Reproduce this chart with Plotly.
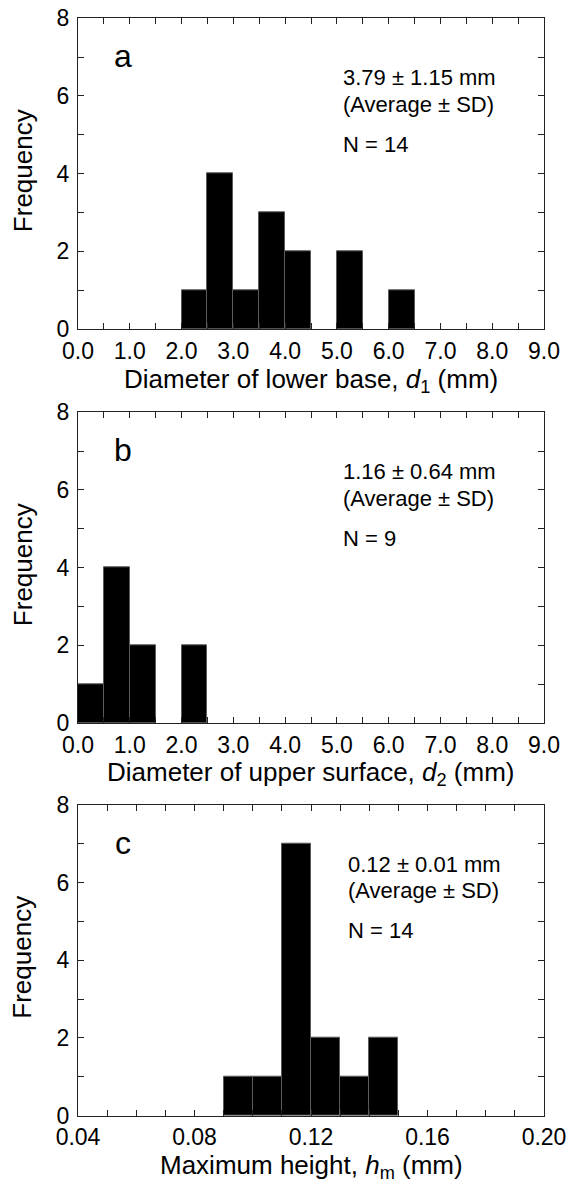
import plotly.graph_objects as go

# ---------------- data ----------------
# panel a: diameter of lower base d1 (mm), bin width 0.5
a_bin_left = [2.0, 2.5, 3.0, 3.5, 4.0, 4.5, 5.0, 5.5, 6.0]
a_counts = [1, 4, 1, 3, 2, 0, 2, 0, 1]
a_bin_width = 0.5
# panel b: diameter of upper surface d2 (mm), bin width 0.5
b_bin_left = [0.0, 0.5, 1.0, 1.5, 2.0]
b_counts = [1, 4, 2, 0, 2]
b_bin_width = 0.5
# panel c: maximum height hm (mm), bin width 0.01
c_bin_left = [0.09, 0.10, 0.11, 0.12, 0.13, 0.14]
c_counts = [1, 1, 7, 2, 1, 2]
c_bin_width = 0.01

ab_major_ticks = [float(v) for v in range(10)]
ab_tick_labels = [f"{v:.1f}" for v in ab_major_ticks]
ab_minor_ticks = [v + 0.5 for v in range(9)]
c_major_ticks = [0.04, 0.08, 0.12, 0.16, 0.20]
c_tick_labels = ["0.04", "0.08", "0.12", "0.16", "0.20"]
c_minor_ticks = [0.05, 0.06, 0.07, 0.09, 0.10, 0.11, 0.13, 0.14, 0.15, 0.17, 0.18, 0.19]
y_major_ticks = [0, 2, 4, 6, 8]
y_tick_labels = ["0", "2", "4", "6", "8"]
y_minor_ticks = [1, 3, 5, 7]

panel_letters = ["a", "b", "c"]
stat_lines = [
    ["3.79 ± 1.15 mm", "(Average ± SD)", "N = 14"],
    ["1.16 ± 0.64 mm", "(Average ± SD)", "N = 9"],
    ["0.12 ± 0.01 mm", "(Average ± SD)", "N = 14"],
]
x_titles = [
    "Diameter of lower base, <i>d</i><sub>1</sub> (mm)",
    "Diameter of upper surface, <i>d</i><sub>2</sub> (mm)",
    "Maximum height, <i>h</i><sub>m</sub> (mm)",
]
y_title = "Frequency"

# ---------------- layout geometry (pixels) ----------------
W, H = 572, 1183
FONT = "Liberation Sans, Arial, sans-serif"
left_px, right_px = 78, 544
panels_px = [(18.3, 329.0), (412.3, 723.0), (804.7, 1115.7)]  # top, bottom


def py(p):
    return (H - p) / H


def px(p):
    return p / W


fig = go.Figure()

series = [
    (a_bin_left, a_counts, a_bin_width),
    (b_bin_left, b_counts, b_bin_width),
    (c_bin_left, c_counts, c_bin_width),
]
xranges = [[0, 9], [0, 9], [0.04, 0.20]]
xticks = [
    (ab_major_ticks, ab_tick_labels, ab_minor_ticks),
    (ab_major_ticks, ab_tick_labels, ab_minor_ticks),
    (c_major_ticks, c_tick_labels, c_minor_ticks),
]

AX = "#222"
annotations = []
for i, ((lefts, counts, bw), (top, bot)) in enumerate(zip(series, panels_px)):
    n = "" if i == 0 else str(i + 1)
    keep = [k for k, c in enumerate(counts) if c > 0]
    fig.add_trace(go.Bar(
        x=[lefts[k] for k in keep], y=[counts[k] for k in keep], width=bw, offset=0,
        marker=dict(color="black", line=dict(color="#5a5a5a", width=1)),
        xaxis="x" + n, yaxis="y" + n, showlegend=False,
    ))
    common = dict(
        showgrid=False, zeroline=False, showline=True, linecolor=AX,
        linewidth=1.3, mirror="ticks", ticks="inside", ticklen=6,
        tickwidth=1, tickcolor=AX, automargin=False,
        tickfont=dict(family=FONT, size=23, color="black"),
    )
    fig.update_layout(**{
        "xaxis" + n: dict(
            domain=[px(left_px), px(right_px)], range=xranges[i],
            anchor="y" + n, tickmode="array", tickvals=xticks[i][0],
            ticktext=xticks[i][1], ticklabelstandoff=1,
            minor=dict(tickmode="array", tickvals=xticks[i][2], ticks="inside",
                       ticklen=6, tickwidth=1, tickcolor=AX, showgrid=False),
            **common),
        "yaxis" + n: dict(
            domain=[py(bot), py(top)], range=[0, 8], anchor="x" + n,
            tickmode="array", tickvals=y_major_ticks, ticktext=y_tick_labels,
            ticklabelstandoff=3,
            minor=dict(tickmode="array", tickvals=y_minor_ticks, ticks="inside",
                       ticklen=6, tickwidth=1, tickcolor=AX, showgrid=False),
            **common),
    })
    # panel letter
    annotations.append(dict(
        text=panel_letters[i], x=px(123), y=py(top + 38), xref="paper", yref="paper",
        xanchor="center", yanchor="middle", showarrow=False,
        font=dict(family=FONT, size=32, color="black")))
    # stats text
    sx = 341.5 if i < 2 else 346
    for line, dy in zip(stat_lines[i], [59.5, 86.0, 125.7]):
        annotations.append(dict(
            text=line, x=px(sx), y=py(top + dy), xref="paper", yref="paper",
            xanchor="left", yanchor="middle", showarrow=False,
            font=dict(family=FONT, size=22, color="black")))
    # x title
    annotations.append(dict(
        text=x_titles[i], x=px((left_px + right_px) / 2), y=py(bot + 51),
        xref="paper", yref="paper", xanchor="center", yanchor="middle",
        showarrow=False, font=dict(family=FONT, size=26, color="black")))
    # y title
    annotations.append(dict(
        text=y_title, x=px(22.5), y=py((top + bot) / 2 - 3), xref="paper", yref="paper",
        xanchor="center", yanchor="middle", textangle=-90, showarrow=False,
        font=dict(family=FONT, size=26, color="black")))

fig.update_layout(
    template="none",
    width=W, height=H, margin=dict(l=0, r=0, t=0, b=0),
    paper_bgcolor="white", plot_bgcolor="white",
    annotations=annotations, bargap=0,
)

fig.write_html("out.html", config={"displayModeBar": False},
               post_script="document.body.style.margin='0';")
